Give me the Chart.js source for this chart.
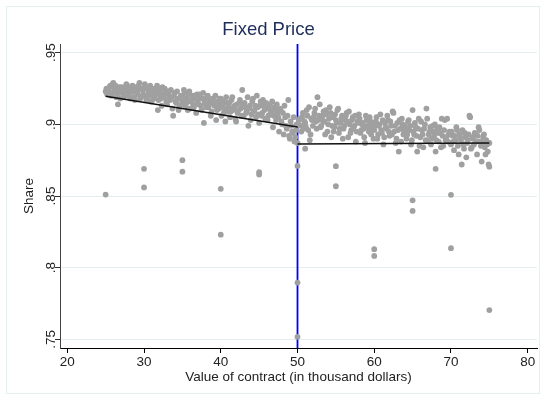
<!DOCTYPE html>
<html>
<head>
<meta charset="utf-8">
<script src="https://cdn.jsdelivr.net/npm/chart.js@4.4.0/dist/chart.umd.min.js"></script>
<style>
  body { margin: 0; background: #fff; }
</style>
</head>
<body>
<canvas id="shareChart" width="546" height="400"></canvas>
<script>
// === Data ===
const bandValue = [
  25.0,25.2,25.4,25.6,25.8,26.0,26.2,26.4,26.6,26.8,
  27.0,27.2,27.4,27.6,27.8,28.0,28.2,28.4,28.6,28.8,
  29.0,29.2,29.4,29.6,29.8,30.0,30.2,30.4,30.6,30.8,
  31.0,31.2,31.4,31.6,31.8,32.0,32.2,32.4,32.6,32.8,
  33.0,33.2,33.4,33.6,33.8,34.0,34.2,34.4,34.6,34.8,
  35.0,35.2,35.4,35.6,35.8,36.0,36.2,36.4,36.6,36.8,
  37.0,37.2,37.4,37.6,37.8,38.0,38.2,38.4,38.6,38.8,
  39.0,39.2,39.4,39.6,39.8,40.0,40.2,40.4,40.6,40.8,
  41.0,41.2,41.4,41.6,41.8,42.0,42.2,42.4,42.6,42.8,
  43.0,43.2,43.4,43.6,43.8,44.0,44.2,44.4,44.6,44.8,
  45.0,45.2,45.4,45.6,45.8,46.0,46.2,46.4,46.6,46.8,
  47.0,47.2,47.4,47.6,47.8,48.0,48.2,48.4,48.6,48.8,
  49.0,49.2,49.4,49.6,49.8,50.0,
  50.2,50.4,50.6,50.8,51.0,51.2,51.4,51.6,51.8,52.0,
  52.2,52.4,52.6,52.8,53.0,53.2,53.4,53.6,53.8,54.0,
  54.2,54.4,54.6,54.8,55.0,55.2,55.4,55.6,55.8,56.0,
  56.2,56.4,56.6,56.8,57.0,57.2,57.4,57.6,57.8,58.0,
  58.2,58.4,58.6,58.8,59.0,59.2,59.4,59.6,59.8,60.0,
  60.2,60.4,60.6,60.8,61.0,61.2,61.4,61.6,61.8,62.0,
  62.2,62.4,62.6,62.8,63.0,63.2,63.4,63.6,63.8,64.0,
  64.2,64.4,64.6,64.8,65.0,65.2,65.4,65.6,65.8,66.0,
  66.2,66.4,66.6,66.8,67.0,67.2,67.4,67.6,67.8,68.0,
  68.2,68.4,68.6,68.8,69.0,69.2,69.4,69.6,69.8,70.0,
  70.2,70.4,70.6,70.8,71.0,71.2,71.4,71.6,71.8,72.0,
  72.2,72.4,72.6,72.8,73.0,73.2,73.4,73.6,73.8,74.0,
  74.2,74.4,74.6,74.8,75.0
];
const bandShare = [
  .923,.921,.924,.927,.922,.929,.925,.919,.914,.926,
  .922,.925,.920,.924,.927,.921,.918,.925,.923,.917,
  .926,.921,.929,.919,.924,.920,.926,.918,.922,.927,
  .916,.923,.920,.925,.910,.921,.918,.926,.919,.923,
  .914,.921,.917,.919,.906,.922,.915,.918,.912,.920,
  .916,.924,.913,.918,.921,.911,.917,.914,.920,.908,
  .916,.921,.913,.918,.901,.915,.919,.912,.916,.909,
  .918,.913,.903,.916,.911,.918,.914,.908,.902,.915,
  .912,.905,.917,.910,.913,.902,.908,.915,.911,.924,
  .906,.912,.909,.899,.913,.907,.918,.910,.905,.912,
  .901,.916,.908,.913,.904,.911,.906,.914,.909,.898,
  .912,.903,.908,.895,.910,.900,.893,.905,.897,.917,
  .890,.899,.894,.888,.896,.887,
  .903,.899,.905,.897,.901,.910,.896,.889,.904,.899,
  .908,.902,.919,.906,.898,.903,.909,.893,.907,.900,
  .912,.891,.905,.898,.903,.910,.894,.901,.906,.897,
  .903,.908,.891,.900,.896,.905,.899,.888,.902,.907,
  .894,.900,.897,.887,.903,.898,.905,.893,.900,.896,
  .902,.890,.899,.907,.894,.886,.901,.897,.903,.892,
  .899,.909,.895,.887,.901,.881,.897,.904,.893,.899,
  .890,.902,.896,.886,.910,.893,.898,.881,.904,.891,
  .896,.884,.900,.911,.889,.895,.886,.899,.892,.881,
  .897,.888,.894,.904,.885,.903,.891,.888,.895,.886,
  .892,.882,.889,.896,.879,.891,.872,.886,.894,.877,
  .889,.906,.883,.891,.886,.893,.879,.898,.888,.874,
  .891,.884,.889,.881,.887
];

// second pass through the band (points between the ones above)
const bandValue2 = [
  25.1,25.3,25.5,25.7,25.9,26.1,26.3,26.5,26.7,26.9,
  27.1,27.3,27.5,27.7,27.9,28.1,28.3,28.5,28.7,28.9,
  29.1,29.3,29.5,29.7,29.9,30.1,30.3,30.5,30.7,30.9,
  31.1,31.3,31.5,31.7,31.9,32.1,32.3,32.5,32.7,32.9,
  33.1,33.3,33.5,33.7,33.9,34.1,34.3,34.5,34.7,34.9,
  35.1,35.3,35.5,35.7,35.9,36.1,36.3,36.5,36.7,36.9,
  37.1,37.3,37.5,37.7,37.9,38.1,38.3,38.5,38.7,38.9,
  39.1,39.3,39.5,39.7,39.9,40.1,40.3,40.5,40.7,40.9,
  41.1,41.3,41.5,41.7,41.9,42.1,42.3,42.5,42.7,42.9,
  43.1,43.3,43.5,43.7,43.9,44.1,44.3,44.5,44.7,44.9,
  45.1,45.3,45.5,45.7,45.9,46.1,46.3,46.5,46.7,46.9,
  47.1,47.3,47.5,47.7,47.9,48.1,48.3,48.5,48.7,48.9,
  49.1,49.3,49.5,49.7,49.9,
  50.1,50.3,50.5,50.7,50.9,51.1,51.3,51.5,51.7,51.9,
  52.1,52.3,52.5,52.7,52.9,53.1,53.3,53.5,53.7,53.9,
  54.1,54.3,54.5,54.7,54.9,55.1,55.3,55.5,55.7,55.9,
  56.1,56.3,56.5,56.7,56.9,57.1,57.3,57.5,57.7,57.9,
  58.1,58.3,58.5,58.7,58.9,59.1,59.3,59.5,59.7,59.9,
  60.1,60.3,60.5,60.7,60.9,61.1,61.3,61.5,61.7,61.9,
  62.1,62.3,62.5,62.7,62.9,63.1,63.3,63.5,63.7,63.9,
  64.1,64.3,64.5,64.7,64.9,65.1,65.3,65.5,65.7,65.9,
  66.1,66.3,66.5,66.7,66.9,67.1,67.3,67.5,67.7,67.9,
  68.1,68.3,68.5,68.7,68.9,69.1,69.3,69.5,69.7,69.9,
  70.1,70.3,70.5,70.7,70.9,71.1,71.3,71.5,71.7,71.9,
  72.1,72.3,72.5,72.7,72.9,73.1,73.3,73.5,73.7,73.9,
  74.1,74.3,74.5,74.7,74.9
];
const bandShare2 = [
  .925,.922,.926,.920,.928,.923,.927,.921,.924,.918,
  .926,.919,.923,.928,.920,.924,.922,.927,.919,.925,
  .923,.927,.918,.925,.921,.928,.917,.924,.920,.916,
  .925,.918,.922,.927,.917,.924,.913,.921,.925,.916,
  .923,.918,.924,.911,.920,.916,.923,.910,.918,.914,
  .919,.922,.915,.910,.923,.916,.920,.912,.918,.921,
  .914,.919,.910,.922,.916,.912,.920,.914,.906,.918,
  .915,.920,.910,.913,.918,.906,.916,.911,.919,.909,
  .915,.909,.919,.912,.904,.914,.910,.917,.906,.913,
  .915,.908,.919,.911,.903,.916,.909,.913,.920,.907,
  .913,.906,.917,.910,.915,.903,.912,.908,.916,.906,
  .910,.914,.905,.911,.902,.908,.913,.899,.906,.892,
  .902,.895,.905,.891,.900,
  .900,.904,.895,.908,.902,.898,.906,.912,.893,.903,
  .905,.911,.897,.903,.914,.899,.906,.902,.910,.895,
  .904,.908,.899,.895,.907,.901,.911,.897,.904,.890,
  .899,.906,.902,.909,.894,.903,.898,.906,.895,.901,
  .904,.896,.901,.891,.906,.899,.895,.902,.897,.890,
  .899,.905,.893,.900,.896,.903,.891,.898,.906,.895,
  .902,.893,.908,.899,.890,.896,.903,.888,.900,.895,
  .897,.893,.903,.899,.889,.895,.901,.892,.897,.885,
  .902,.893,.897,.889,.904,.893,.898,.890,.895,.900,
  .889,.894,.898,.884,.892,.896,.889,.904,.893,.887,
  .895,.888,.892,.898,.885,.893,.889,.896,.883,.891,
  .887,.893,.905,.884,.890,.894,.888,.892,.896,.885,
  .887,.893,.879,.886,.872
];

// points well away from the band
const outlierValue = [25, 30, 30, 35, 35, 40, 40, 45, 45, 50, 50, 50, 51, 55, 55, 60, 60, 65, 65, 68, 70, 70, 75, 75];
const outlierShare = [.851, .869, .856, .875, .867, .855, .823, .8666, .865, .871, .7896, .7517, .883, .8708, .8568, .8129, .8082, .847, .8396, .869, .8508, .8136, .7704, .8705];

// fitted lines either side of the cutoff
const fitLeftValue = [25, 50];
const fitLeftShare = [.9196, .8982];
const fitRightValue = [50, 75];
const fitRightShare = [.8863, .887];

const cutoff = 50;

const xTicks = [20, 30, 40, 50, 60, 70, 80];
const yTicks = [.75, .8, .85, .9, .95];
const yTickLabels = [".75", ".8", ".85", ".9", ".95"];

const xMin = 19.05, xMax = 81.21;
const yMin = 0.7439, yMax = 0.9561;

const FONT = "'Liberation Sans', Arial, sans-serif";

// === Build point lists ===
const toPoints = (xs, ys) => xs.map((v, i) => ({ x: v, y: ys[i] }));
const scatterPoints = toPoints(bandValue, bandShare)
  .concat(toPoints(bandValue2, bandShare2))
  .concat(toPoints(outlierValue, outlierShare));

// === Plugin: frame, rotated y tick labels, y title ===
const stataBits = {
  id: "stataBits",
  beforeDraw(chart) {
    const c = chart.ctx;
    c.save();
    c.fillStyle = "#fff";
    c.fillRect(0, 0, chart.width, chart.height);
    c.strokeStyle = "#e6eef0";
    c.lineWidth = 1;
    c.strokeRect(6.5, 6.5, chart.width - 13, chart.height - 13);
    c.restore();
  },
  afterDraw(chart) {
    const c = chart.ctx;
    const y = chart.scales.y;
    c.save();
    c.fillStyle = "#222";
    c.font = "13.5px " + FONT;
    c.textAlign = "center";
    c.textBaseline = "middle";
    yTicks.forEach((v, i) => {
      c.save();
      c.translate(51, y.getPixelForValue(v));
      c.rotate(-Math.PI / 2);
      c.fillText(yTickLabels[i], 0, 0);
      c.restore();
    });
    // axis title
    c.translate(29, y.getPixelForValue(0.85));
    c.rotate(-Math.PI / 2);
    c.fillText("Share", 0, 0);
    c.restore();
  }
};

const ctx = document.getElementById("shareChart").getContext("2d");

new Chart(ctx, {
  type: "scatter",
  data: {
    datasets: [
      {
        label: "Fit left",
        type: "line",
        data: toPoints(fitLeftValue, fitLeftShare),
        borderColor: "#111",
        borderWidth: 1.6,
        pointRadius: 0,
        fill: false,
        order: 0
      },
      {
        label: "Fit right",
        type: "line",
        data: toPoints(fitRightValue, fitRightShare),
        borderColor: "#111",
        borderWidth: 1.6,
        pointRadius: 0,
        fill: false,
        order: 0
      },
      {
        label: "Share",
        data: scatterPoints,
        backgroundColor: "rgb(160,160,160)",
        borderWidth: 0,
        pointRadius: 2.9,
        order: 1
      },
      {
        label: "Cutoff",
        type: "line",
        data: [{ x: cutoff, y: yMin }, { x: cutoff, y: yMax }],
        borderColor: "#0000ff",
        borderWidth: 1.8,
        pointRadius: 0,
        fill: false,
        order: 2
      }
    ]
  },
  options: {
    responsive: false,
    animation: false,
    layout: { padding: { left: 0, right: 9, top: 0, bottom: 0 } },
    plugins: {
      legend: { display: false },
      tooltip: { enabled: false },
      title: {
        display: true,
        text: "Fixed Price",
        color: "#1e2d5a",
        font: { family: FONT, size: 18.5, weight: "normal" },
        padding: { top: 19, bottom: 2.8 }
      }
    },
    scales: {
      x: {
        type: "linear",
        min: xMin,
        max: xMax,
        afterBuildTicks: axis => { axis.ticks = xTicks.map(v => ({ value: v })); },
        afterFit: axis => { axis.height = 52; },
        grid: { drawOnChartArea: false, drawTicks: true, tickLength: 5, tickColor: "#000" },
        border: { display: true, color: "#000", width: 1 },
        ticks: { color: "#222", font: { family: FONT, size: 13.5 }, padding: 1, maxRotation: 0 },
        title: {
          display: true,
          text: "Value of contract (in thousand dollars)",
          color: "#222",
          font: { family: FONT, size: 13.5 },
          padding: { top: 0, bottom: 15 }
        }
      },
      y: {
        type: "linear",
        min: yMin,
        max: yMax,
        afterBuildTicks: axis => { axis.ticks = yTicks.map(v => ({ value: v })); },
        afterFit: axis => { axis.width = 60; },
        grid: { color: "#e4edf0", lineWidth: 1, drawTicks: true, tickLength: 5, tickColor: "#333" },
        border: { display: true, color: "#444", width: 1 },
        ticks: { display: false }
      }
    }
  },
  plugins: [stataBits]
});
</script>
</body>
</html>
